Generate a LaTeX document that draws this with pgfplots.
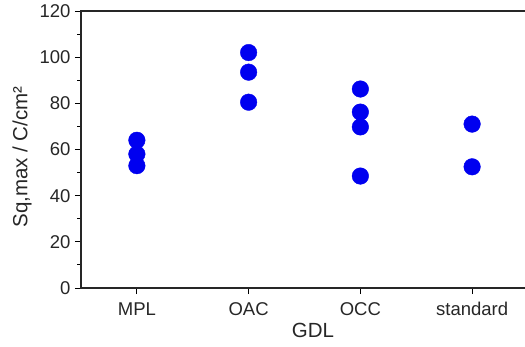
\documentclass[border=0pt]{standalone}
\usepackage{pgfplots}
\pgfplotsset{compat=1.18}
\usepackage{fontspec}
\setmainfont{Liberation Sans}
\usetikzlibrary{calc}
\definecolor{dotblue}{RGB}{0,0,240}
\begin{document}
\begin{tikzpicture}
\begin{axis}[
  scale only axis, width=447pt, height=277pt,
  xmin=-0.5, xmax=3.5, ymin=0, ymax=120,
  xtick={0,1,2,3}, xticklabels={MPL,OAC,OCC,standard},
  ytick={0,20,...,120}, minor y tick num=1,
  tick align=outside, tick pos=left,
  major tick length=6pt, minor tick length=3.5pt,
  every tick/.style={black, line width=1pt},
  axis line style={line width=1.4pt, black!85},
  /pgf/number format/assume math mode=true,
  tick label style={font=\fontsize{18.5}{20}\selectfont, text=black!85},
  xticklabel style={yshift=-5pt},
  yticklabel style={xshift=-1pt},
  label style={font=\fontsize{20.5}{22}\selectfont, text=black!85},
  xlabel={GDL}, ylabel={Sq,max / C/cm²},
  xlabel style={at={(axis description cs:0.519,-0.155)}, anchor=center},
  ylabel style={at={(axis description cs:-0.132,0.473)}, anchor=center, rotate=0},
]
\coordinate (O) at (rel axis cs:0,0);
\addplot[only marks, mark=*, mark size=8.3pt, dotblue, mark options={draw=dotblue, fill=dotblue}] coordinates {
  (0,64) (0,58) (0,53)
  (1,102) (1,93.5) (1,80.5)
  (2,86.2) (2,76.2) (2,69.8) (2,48.5)
  (3,71) (3,52.5)
};
\end{axis}
\pgfresetboundingbox
\path[use as bounding box] ($(O)+(-81pt,-58pt)$) rectangle ($(O)+(444pt,288pt)$);
\end{tikzpicture}
\end{document}
